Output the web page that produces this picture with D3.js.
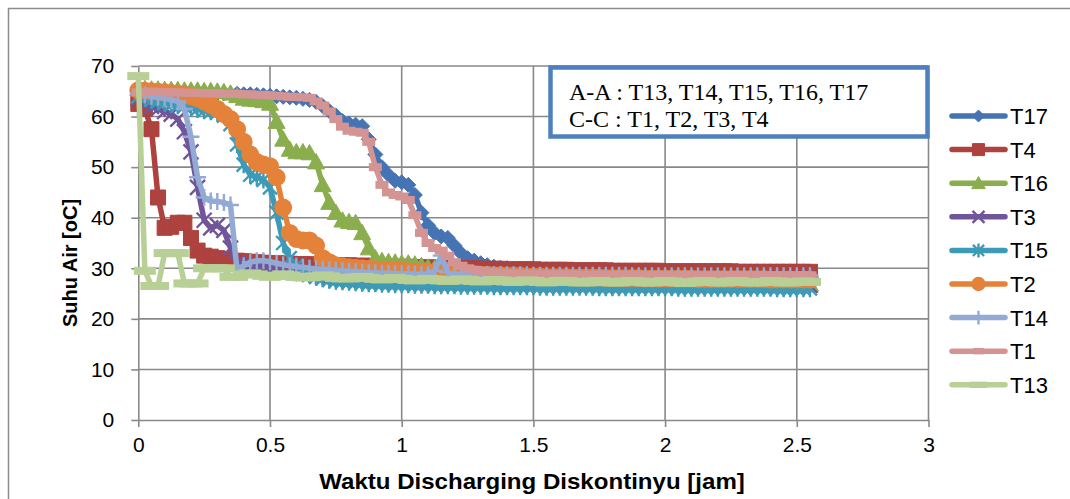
<!DOCTYPE html>
<html>
<head>
<meta charset="utf-8">
<script src="https://cdn.jsdelivr.net/npm/d3@7"></script>
<style>
  html, body { margin: 0; padding: 0; background: #ffffff; }
  svg { display: block; }
</style>
</head>
<body>
<svg id="chart" width="1070" height="499"></svg>
<script>
// Sample times (hours) shared by every sensor
const timeHours = [
  0,0.025,0.05,0.075,0.1,0.125,0.15,0.175,0.2,0.225,
  0.25,0.275,0.3,0.325,0.35,0.375,0.4,0.425,0.45,0.475,
  0.5,0.525,0.55,0.575,0.6,0.625,0.65,0.675,0.7,0.725,
  0.75,0.775,0.8,0.825,0.85,0.875,0.9,0.925,0.95,0.975,
  1,1.025,1.05,1.075,1.1,1.125,1.15,1.175,1.2,1.225,
  1.25,1.275,1.3,1.325,1.35,1.375,1.4,1.425,1.45,1.475,
  1.5,1.525,1.55,1.575,1.6,1.625,1.65,1.675,1.7,1.725,
  1.75,1.775,1.8,1.825,1.85,1.875,1.9,1.925,1.95,1.975,
  2,2.025,2.05,2.075,2.1,2.125,2.15,2.175,2.2,2.225,
  2.25,2.275,2.3,2.325,2.35,2.375,2.4,2.425,2.45,2.475,
  2.5,2.525,2.55
];

// Water temperature readings (°C) per thermocouple
const T17 = [
  65.3,65.2,65.1,65.1,65.0,65.0,64.9,64.9,64.8,64.8,
  64.7,64.7,64.6,64.6,64.5,64.5,64.4,64.4,64.3,64.2,
  64.1,64.0,63.9,63.8,63.7,63.5,63.3,62.9,62.1,61.1,
  60.2,59.1,58.6,58.4,58.1,55.5,52.5,50.0,48.5,47.3,
  47.0,46.5,44.5,41.0,38.5,37.0,36.3,36.0,34.5,33.0,
  32.0,31.5,31.0,30.6,30.3,30.1,30.0,29.9,29.8,29.7,
  29.7,29.6,29.6,29.5,29.5,29.5,29.4,29.4,29.4,29.3,
  29.3,29.3,29.3,29.2,29.2,29.2,29.2,29.1,29.1,29.1,
  29.1,29.0,29.0,29.0,29.0,29.0,28.9,28.9,28.9,28.9,
  28.9,28.8,28.8,28.8,28.8,28.8,28.8,28.7,28.7,28.7,
  28.7,28.7,28.6
];
const T4 = [
  62.5,61.5,57.5,44.0,38.0,38.2,39.0,39.0,36.0,33.5,
  32.5,32.3,32.0,31.8,31.6,31.5,31.4,31.3,31.2,31.1,
  31.0,31.0,30.9,30.9,30.8,30.8,30.8,30.7,30.7,30.7,
  30.6,30.6,30.6,30.5,30.5,30.5,30.4,30.4,30.4,30.3,
  30.3,30.3,30.2,30.2,30.2,30.1,30.1,30.1,30.0,30.0,
  30.0,30.0,29.9,29.9,29.9,29.9,29.8,29.8,29.8,29.8,
  29.8,29.7,29.7,29.7,29.7,29.7,29.6,29.6,29.6,29.6,
  29.6,29.6,29.5,29.5,29.5,29.5,29.5,29.5,29.5,29.5,
  29.4,29.4,29.4,29.4,29.4,29.4,29.4,29.4,29.4,29.4,
  29.4,29.3,29.3,29.3,29.3,29.3,29.3,29.3,29.3,29.3,
  29.3,29.3,29.3
];
const T16 = [
  65.5,65.5,65.4,65.4,65.3,65.3,65.3,65.2,65.2,65.2,
  65.1,65.1,65.0,64.9,64.6,64.1,63.6,63.4,63.3,63.1,
  62.6,59.0,55.5,53.5,53.0,53.0,52.8,51.0,46.5,43.0,
  41.0,39.5,39.2,39.0,37.0,34.0,32.0,31.5,31.3,31.2,
  31.0,31.0,30.8,30.5,30.2,30.0,29.8,29.5,29.2,29.0,
  28.8,28.6,28.4,28.2,28.0,27.9,27.8,27.7,27.6,27.5,
  27.5,27.4,27.4,27.4,27.3,27.3,27.3,27.3,27.2,27.2,
  27.2,27.2,27.2,27.1,27.1,27.1,27.1,27.1,27.1,27.0,
  27.0,27.0,27.0,27.0,27.0,27.0,27.0,27.0,26.9,26.9,
  26.9,26.9,26.9,26.9,26.9,26.9,26.9,26.9,26.9,26.9,
  26.8,26.8,26.8
];
const T3 = [
  63.5,62.5,62.0,61.5,61.0,60.5,59.5,57.0,53.0,46.0,
  39.5,38.0,38.5,37.5,34.0,31.0,30.8,30.6,30.4,30.2,
  30.0,29.8,29.6,29.4,29.2,29.0,28.8,28.6,28.4,28.2,
  28.1,28.0,27.9,27.8,27.7,27.6,27.5,27.5,27.4,27.4,
  27.3,27.3,27.3,27.2,27.2,27.2,27.1,27.1,27.1,27.1,
  27.0,27.0,27.0,27.0,27.0,27.0,26.9,26.9,26.9,26.9,
  26.9,26.9,26.9,26.9,26.8,26.8,26.8,26.8,26.8,26.8,
  26.8,26.8,26.8,26.8,26.7,26.7,26.7,26.7,26.7,26.7,
  26.7,26.7,26.7,26.7,26.7,26.7,26.7,26.7,26.6,26.6,
  26.6,26.6,26.6,26.6,26.6,26.6,26.6,26.6,26.6,26.6,
  26.6,26.6,26.6
];
const T15 = [
  64.0,63.6,63.3,63.0,62.7,62.4,62.2,62.0,61.7,61.5,
  61.2,61.0,60.8,60.2,58.5,54.5,50.5,48.5,48.0,47.5,
  46.0,41.0,35.0,32.0,30.5,29.5,28.8,28.3,28.0,27.7,
  27.5,27.4,27.3,27.2,27.1,27.0,27.0,26.9,26.9,26.8,
  26.8,26.8,26.7,26.7,26.7,26.6,26.6,26.6,26.6,26.5,
  26.5,26.5,26.5,26.5,26.4,26.4,26.4,26.4,26.4,26.4,
  26.4,26.3,26.3,26.3,26.3,26.3,26.3,26.3,26.3,26.3,
  26.2,26.2,26.2,26.2,26.2,26.2,26.2,26.2,26.2,26.2,
  26.2,26.2,26.1,26.1,26.1,26.1,26.1,26.1,26.1,26.1,
  26.1,26.1,26.1,26.1,26.1,26.1,26.1,26.0,26.0,26.0,
  26.0,26.0,26.0
];
const T2 = [
  65.2,65.1,65.0,64.9,64.8,64.6,64.5,64.3,64.0,63.6,
  63.0,62.3,61.5,60.5,59.5,57.5,55.0,52.5,51.0,50.5,
  50.2,48.0,42.0,37.0,35.8,35.5,35.5,34.5,32.0,31.2,
  30.6,30.4,30.2,30.1,30.0,29.9,29.8,29.7,29.6,29.6,
  29.5,29.4,29.3,29.2,29.2,29.1,29.0,29.0,28.9,28.9,
  28.8,28.8,28.7,28.7,28.6,28.6,28.5,28.5,28.5,28.4,
  28.4,28.4,28.3,28.3,28.3,28.3,28.2,28.2,28.2,28.2,
  28.2,28.1,28.1,28.1,28.1,28.1,28.1,28.0,28.0,28.0,
  28.0,28.0,28.0,28.0,28.0,27.9,27.9,27.9,27.9,27.9,
  27.9,27.9,27.9,27.9,27.9,27.9,27.8,27.8,27.8,27.8,
  27.8,27.8,27.8
];
const T14 = [
  64.5,64.3,64.0,63.8,63.6,63.3,63.0,61.5,56.0,48.0,
  44.0,43.3,43.2,43.0,42.5,29.5,30.5,31.2,31.5,31.5,
  31.3,31.0,30.7,30.5,30.3,30.2,30.0,29.9,29.8,29.7,
  29.6,29.5,29.4,29.3,29.2,29.1,29.1,29.0,29.0,28.9,
  28.9,28.9,28.8,28.8,28.8,29.5,32.5,29.2,28.8,28.8,
  28.7,28.7,28.7,28.7,28.7,28.7,28.7,28.7,28.7,28.7,
  28.6,28.6,28.6,28.6,28.6,28.6,28.6,28.6,28.6,28.6,
  28.6,28.6,28.6,28.6,28.6,28.5,28.5,28.5,28.5,28.5,
  28.5,28.5,28.5,28.5,28.5,28.5,28.5,28.5,28.5,28.5,
  28.5,28.5,28.5,28.5,28.5,28.5,28.5,28.5,28.5,28.5,
  28.5,28.5,28.5
];
const T1 = [
  64.8,64.9,64.9,64.9,64.8,64.8,64.8,64.7,64.7,64.7,
  64.6,64.6,64.6,64.5,64.5,64.5,64.4,64.4,64.3,64.3,
  64.2,64.1,64.0,63.9,63.9,63.8,63.7,63.0,62.2,61.0,
  59.5,58.0,57.2,57.0,56.8,55.0,50.0,46.5,45.0,44.5,
  44.2,43.5,40.5,37.0,35.0,34.0,33.5,32.5,31.2,30.5,
  30.0,29.7,29.5,29.3,29.2,29.1,29.0,29.0,28.9,28.9,
  28.9,28.8,28.8,28.8,28.8,28.8,28.8,28.7,28.7,28.7,
  28.7,28.7,28.7,28.7,28.7,28.7,28.7,28.6,28.6,28.6,
  28.6,28.6,28.6,28.6,28.6,28.6,28.6,28.6,28.6,28.6,
  28.6,28.6,28.6,28.6,28.6,28.6,28.6,28.6,28.6,28.6,
  28.6,28.6,28.6
];
const T13 = [
  68.0,29.5,26.5,26.5,33.0,33.0,33.0,27.0,27.0,27.0,
  30.0,30.0,30.0,30.0,28.3,28.3,28.8,29.0,28.8,28.5,
  28.3,28.5,28.8,28.6,28.3,28.2,28.2,28.4,28.6,28.4,
  28.1,28.0,28.0,28.2,28.3,28.1,27.9,27.8,27.9,28.1,
  27.9,27.7,27.6,27.7,27.9,27.8,27.6,27.5,27.6,27.8,
  27.7,27.5,27.4,27.5,27.7,27.6,27.4,27.3,27.4,27.6,
  27.5,27.3,27.2,27.3,27.5,27.5,27.3,27.2,27.2,27.4,
  27.5,27.3,27.2,27.2,27.4,27.5,27.4,27.2,27.2,27.3,
  27.5,27.4,27.2,27.1,27.2,27.4,27.5,27.3,27.2,27.2,
  27.4,27.5,27.3,27.2,27.2,27.3,27.5,27.4,27.2,27.2,
  27.3,27.4,27.3
];

// Axis ticks and texts
const xTickValues = [0, 0.5, 1, 1.5, 2, 2.5, 3];
const xTickLabels = ["0", "0.5", "1", "1.5", "2", "2.5", "3"];
const yTickValues = [0, 10, 20, 30, 40, 50, 60, 70];
const yTickLabels = ["0", "10", "20", "30", "40", "50", "60", "70"];
const xTitle = "Waktu Discharging Diskontinyu [jam]";
const yTitle = "Suhu Air [oC]";
const noteLines = ["A-A : T13, T14, T15, T16, T17", "C-C : T1, T2, T3, T4"];

// Series in drawing / legend order with their styling
const seriesList = [
  { name: "T17", values: T17, color: "#4573B3", marker: "diamond" },
  { name: "T4",  values: T4,  color: "#AD423F", marker: "square" },
  { name: "T16", values: T16, color: "#8AAE4D", marker: "triangle" },
  { name: "T3",  values: T3,  color: "#71559A", marker: "x" },
  { name: "T15", values: T15, color: "#3E9BB7", marker: "star" },
  { name: "T2",  values: T2,  color: "#E4823A", marker: "circle" },
  { name: "T14", values: T14, color: "#93AAD5", marker: "plus" },
  { name: "T1",  values: T1,  color: "#D49493", marker: "dash" },
  { name: "T13", values: T13, color: "#B8CF96", marker: "longdash" }
];

const svg = d3.select("#chart");
const W = 1070, H = 499;
const plot = { left: 138.3, right: 928.5, top: 66, bottom: 420 };
const gridColor = "#898989";
const fontSans = "'Liberation Sans', Arial, sans-serif";

svg.append("rect").attr("width", W).attr("height", H).attr("fill", "#ffffff");

// Outer chart frame
svg.append("rect")
  .attr("x", 8.5).attr("y", 8.5)
  .attr("width", W + 10).attr("height", H + 10)
  .attr("fill", "none").attr("stroke", "#8c8c8c").attr("stroke-width", 1.5);

const x = d3.scaleLinear().domain([0, 3]).range([plot.left, plot.right]);
const y = d3.scaleLinear().domain([0, 70]).range([plot.bottom, plot.top]);

// Gridlines
const grid = svg.append("g");
grid.selectAll("line.v").data(xTickValues.filter(v => v > 0)).join("line")
  .attr("x1", d => x(d)).attr("x2", d => x(d))
  .attr("y1", plot.top).attr("y2", plot.bottom)
  .attr("stroke", gridColor).attr("stroke-width", 1.6);
grid.selectAll("line.h").data(yTickValues.filter(v => v > 0)).join("line")
  .attr("x1", plot.left).attr("x2", plot.right)
  .attr("y1", d => y(d)).attr("y2", d => y(d))
  .attr("stroke", gridColor).attr("stroke-width", 1.6);

// Axes
const xAxis = d3.axisBottom(x).tickValues(xTickValues)
  .tickFormat((d, i) => xTickLabels[i]).tickSizeInner(7).tickSizeOuter(0).tickPadding(10);
const yAxis = d3.axisLeft(y).tickValues(yTickValues)
  .tickFormat((d, i) => yTickLabels[i]).tickSizeInner(7).tickSizeOuter(0).tickPadding(17);

const gx = svg.append("g").attr("transform", `translate(0,${plot.bottom})`).call(xAxis);
const gy = svg.append("g").attr("transform", `translate(${plot.left},0)`).call(yAxis);
[gx, gy].forEach(g => {
  g.select(".domain").attr("stroke", gridColor).attr("stroke-width", 1.6);
  g.selectAll(".tick line").attr("stroke", gridColor).attr("stroke-width", 1.6);
  g.selectAll(".tick text").attr("fill", "#000").style("font-family", fontSans).style("font-size", "21px");
});

// Marker shapes (s = half size)
function markerPath(type, s) {
  switch (type) {
    case "diamond": return `M0,${-s}L${s},0L0,${s}L${-s},0Z`;
    case "square": return `M${-s},${-s}H${s}V${s}H${-s}Z`;
    case "triangle": return `M0,${-s}L${s},${s * 0.8}L${-s},${s * 0.8}Z`;
    case "x": return `M${-s},${-s}L${s},${s}M${-s},${s}L${s},${-s}`;
    case "star": return `M${-s},${-s}L${s},${s}M${-s},${s}L${s},${-s}M0,${-s * 1.25}V${s * 1.25}`;
    case "plus": return `M${-s},0H${s}M0,${-s}V${s}`;
    default: return "";
  }
}
const markerSize = { diamond: 7.5, square: 7.5, triangle: 8.5, circle: 9, x: 7.5, star: 7, plus: 8.5 };
const dashSize = { dash: [13, 8], longdash: [22, 8] };

function drawMarkers(g, type, color, pts, scale) {
  if (type === "circle") {
    g.selectAll("circle").data(pts).join("circle")
      .attr("cx", d => d[0]).attr("cy", d => d[1])
      .attr("r", markerSize.circle * scale).attr("fill", color);
  } else if (type === "dash" || type === "longdash") {
    const [w, h] = dashSize[type].map(v => v * scale);
    g.selectAll("rect").data(pts).join("rect")
      .attr("x", d => d[0] - w / 2).attr("y", d => d[1] - h / 2)
      .attr("width", w).attr("height", h).attr("fill", color);
  } else {
    const filled = ["diamond", "square", "triangle"].includes(type);
    g.selectAll("path").data(pts).join("path")
      .attr("transform", d => `translate(${d[0]},${d[1]})`)
      .attr("d", markerPath(type, markerSize[type] * scale))
      .attr("fill", filled ? color : "none")
      .attr("stroke", color)
      .attr("stroke-width", filled ? 1 : 2.4);
  }
}

const line = d3.line().x(d => d[0]).y(d => d[1]);

// Series: line then markers, in order
const seriesLayer = svg.append("g");
seriesList.forEach(s => {
  const pts = timeHours.map((t, i) => [x(t), y(s.values[i])]);
  const g = seriesLayer.append("g");
  g.append("path").attr("d", line(pts))
    .attr("fill", "none").attr("stroke", s.color)
    .attr("stroke-width", 5.5).attr("stroke-linejoin", "round").attr("stroke-linecap", "round");
  drawMarkers(g.append("g"), s.marker, s.color, pts, 1);
});

// Section note box
const note = svg.append("g");
note.append("rect")
  .attr("x", 550.5).attr("y", 67.5).attr("width", 377).attr("height", 69)
  .attr("fill", "#ffffff").attr("stroke", "#4E80BD").attr("stroke-width", 4.5);
note.selectAll("text").data(noteLines).join("text")
  .attr("x", 569).attr("y", (d, i) => 100 + i * 26.5)
  .style("font-family", "'Liberation Serif', 'Times New Roman', serif")
  .style("font-size", "24px").attr("fill", "#000")
  .text(d => d);

// Legend
const legend = svg.append("g");
seriesList.forEach((s, i) => {
  const cy = 116 + i * 33.6;
  const g = legend.append("g");
  g.append("line").attr("x1", 952).attr("x2", 1005).attr("y1", cy).attr("y2", cy)
    .attr("stroke", s.color).attr("stroke-width", 5.5).attr("stroke-linecap", "round");
  drawMarkers(g.append("g"), s.marker, s.color, [[978.5, cy]], 0.8);
  g.append("text").attr("x", 1010).attr("y", cy).attr("dy", "0.36em")
    .style("font-family", fontSans).style("font-size", "22px").attr("fill", "#000")
    .text(s.name);
});

// Axis titles
svg.append("text")
  .attr("transform", "translate(532,489) scale(1.12,1)")
  .attr("text-anchor", "middle")
  .style("font-family", fontSans).style("font-size", "21.5px").style("font-weight", "bold")
  .text(xTitle);
svg.append("text")
  .attr("transform", "translate(77,263) rotate(-90)")
  .attr("text-anchor", "middle")
  .style("font-family", fontSans).style("font-size", "20px").style("font-weight", "bold")
  .text(yTitle);
</script>
</body>
</html>
